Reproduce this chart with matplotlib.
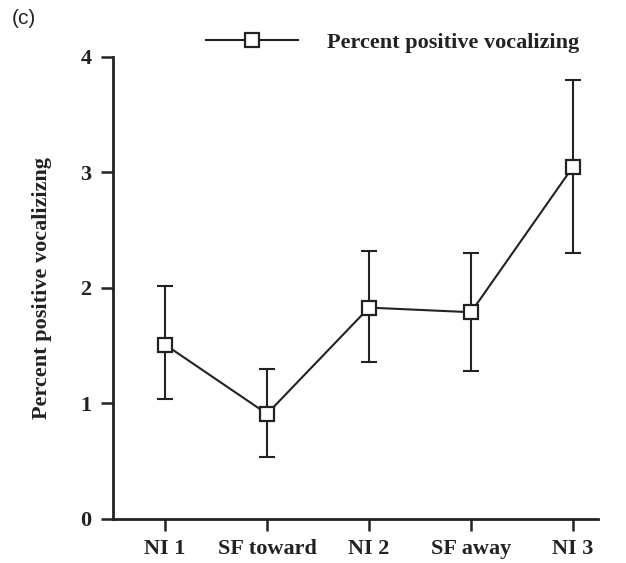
import matplotlib.pyplot as plt

conditions = ["NI 1", "SF toward", "NI 2", "SF away", "NI 3"]
means = [1.51, 0.91, 1.83, 1.79, 3.05]
err_low = [1.04, 0.54, 1.36, 1.28, 2.30]
err_high = [2.02, 1.30, 2.32, 2.30, 3.80]

plt.rcParams["font.family"] = ["Liberation Serif", "DejaVu Serif"]

fig = plt.figure(figsize=(6.26, 5.63), dpi=100)
ax = fig.add_axes([0.1805, 0.0782, 0.7748, 0.8206])

x = list(range(len(conditions)))
yerr = [
    [m - lo for m, lo in zip(means, err_low)],
    [hi - m for m, hi in zip(means, err_high)],
]

ax.errorbar(x, means, yerr=yerr, fmt="none", ecolor="#222222",
            elinewidth=1.5, capsize=6, capthick=1.5, zorder=1)
ax.plot(x, means, color="#222222", lw=1.5, marker="s", markersize=10.5,
        markerfacecolor="white", markeredgecolor="#222222",
        markeredgewidth=1.6, zorder=3, label="Percent positive vocalizing")

ax.set_xlim(-0.51, 4.245)
ax.set_ylim(0, 4)
ax.set_yticks([0, 1, 2, 3, 4])
ax.set_xticks(x)
ax.set_xticklabels(conditions)

for s in ["top", "right"]:
    ax.spines[s].set_visible(False)
for s in ["left", "bottom"]:
    ax.spines[s].set_linewidth(2)
    ax.spines[s].set_color("#222222")

ax.tick_params(axis="both", direction="out", length=8.6, width=1.8,
               color="#222222", labelsize=16)
ax.tick_params(axis="y", pad=7)
ax.tick_params(axis="x", pad=6)
for lab in ax.get_xticklabels() + ax.get_yticklabels():
    lab.set_fontweight("bold")
    lab.set_color("#222222")

ax.set_ylabel("Percent positive vocalizizng", fontsize=16, fontweight="bold",
              color="#222222", labelpad=20)

leg = fig.legend(loc="center left", bbox_to_anchor=(0.329, 0.925),
                 frameon=False, borderpad=0, borderaxespad=0,
                 handlelength=4.15, handletextpad=1.3,
                 prop={"size": 16, "weight": "bold"})
for t in leg.get_texts():
    t.set_color("#222222")

fig.text(0.019, 0.984, "(c)", fontsize=15, family="Liberation Sans",
         va="top", ha="left", color="#222222")

fig.savefig("out.png", dpi=100)
